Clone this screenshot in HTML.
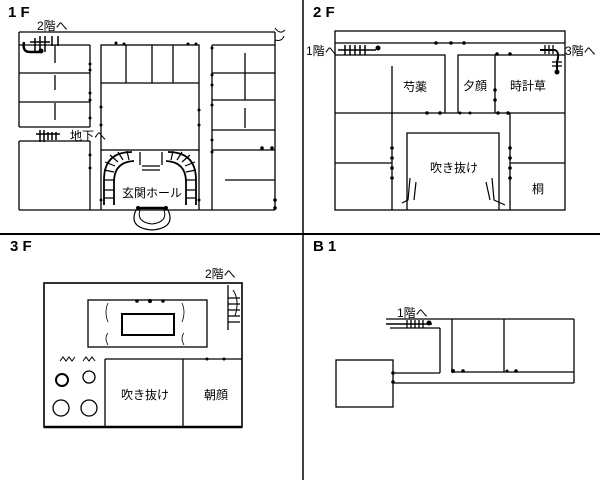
<!DOCTYPE html>
<html><head><meta charset="utf-8"><style>
html,body{margin:0;padding:0;background:#fff}
svg{display:block}
text{font-family:"Liberation Sans","Noto Sans CJK JP",sans-serif;fill:#000}
.t{font-size:12px}
.h{font-size:15px;font-weight:bold}
</style></head><body>
<svg width="600" height="480" viewBox="0 0 600 480" xmlns="http://www.w3.org/2000/svg">
<g stroke="#000" fill="none" stroke-width="1.3">
<line x1="0" y1="234" x2="600" y2="234" stroke-width="2"/>
<line x1="303" y1="0" x2="303" y2="480" stroke-width="1.5"/>

<!-- 1F -->
<line x1="19" y1="32" x2="275" y2="32"/>
<line x1="275" y1="32" x2="275" y2="210"/>
<line x1="19" y1="210" x2="275" y2="210"/>
<line x1="19" y1="32" x2="19" y2="127"/>
<line x1="19" y1="141" x2="19" y2="210"/>
<line x1="19" y1="45" x2="90" y2="45"/>
<line x1="19" y1="73" x2="90" y2="73"/>
<line x1="19" y1="102" x2="90" y2="102"/>
<line x1="19" y1="127" x2="90" y2="127"/>
<line x1="19" y1="141" x2="90" y2="141"/>
<line x1="90" y1="45" x2="90" y2="127"/>
<line x1="90" y1="141" x2="90" y2="210"/>
<line x1="55" y1="45" x2="55" y2="63"/>
<line x1="55" y1="75" x2="55" y2="90"/>
<line x1="55" y1="103" x2="55" y2="120"/>
<rect x="101" y="45" width="98" height="105"/>
<line x1="101" y1="83" x2="199" y2="83"/>
<line x1="126" y1="45" x2="126" y2="83"/>
<line x1="152" y1="45" x2="152" y2="83"/>
<line x1="173" y1="45" x2="173" y2="83"/>
<line x1="101" y1="150" x2="101" y2="210"/>
<line x1="199" y1="150" x2="199" y2="210"/>
<line x1="212" y1="45" x2="212" y2="210"/>
<line x1="212" y1="45" x2="275" y2="45"/>
<line x1="212" y1="73" x2="275" y2="73"/>
<line x1="212" y1="100" x2="275" y2="100"/>
<line x1="212" y1="130" x2="275" y2="130"/>
<line x1="212" y1="150" x2="275" y2="150"/>
<line x1="245" y1="53" x2="245" y2="100"/>
<line x1="245" y1="108" x2="245" y2="128"/>
<line x1="225" y1="180" x2="275" y2="180"/>
<!-- entrance arches -->
<path d="M104 205 L104 180 Q104 152 132 152" stroke-width="1.8"/>
<path d="M114 205 L114 182 Q114 162 134 161" stroke-width="1.8"/>
<path d="M196 205 L196 180 Q196 152 168 152" stroke-width="1.8"/>
<path d="M186 205 L186 182 Q186 162 166 161" stroke-width="1.8"/>
<path d="M104 170 L114 172 M105 162 L115 166 M110 155 L118 162 M118 152 L123 160 M127 151 L129 160 M104 180 L114 180 M104 190 L114 190 M104 198 L114 198
 M196 170 L186 172 M195 162 L185 166 M190 155 L182 162 M182 152 L177 160 M173 151 L171 160 M196 180 L186 180 M196 190 L186 190 M196 198 L186 198" stroke-width="1.2"/>
<line x1="140" y1="152" x2="140" y2="165"/><line x1="162" y1="152" x2="162" y2="165"/>
<line x1="142" y1="166" x2="160" y2="166"/><line x1="142" y1="170" x2="160" y2="170"/>
<path d="M136 210 Q128 228 152 230 Q176 228 168 210" stroke-width="1.2"/>
<path d="M140 210 Q136 222 152 224 Q168 222 164 210" stroke-width="1"/>
<line x1="138" y1="208" x2="166" y2="208" stroke-width="2.5"/>
<!-- stairs 1F -->
<path d="M24 42 Q22 52 30 52 L40 52" stroke-width="2.5"/>
<path d="M30 42 L50 42 M35 38 V52 M40 36 V52 M45 36 V52 M52 36 V46 M58 36 V46" stroke-width="1.5"/>
<path d="M40 130 L40 142 M44 130 V142 M48 132 V140 M52 132 V140 M56 132 V140 M36 134 L60 134" stroke-width="1.5"/>
<path d="M275 28 Q280 35 285 30 M275 40 Q282 42 284 36" stroke-width="1"/>

<!-- 2F -->
<rect x="335" y="31" width="230" height="179"/>
<line x1="335" y1="43" x2="565" y2="43"/>
<path d="M335 55 L445 55 L445 113 M458 113 L458 55 L495 55 L495 113 M495 55 L565 55"/>
<line x1="335" y1="113" x2="565" y2="113"/>
<line x1="392" y1="66" x2="392" y2="210"/>
<line x1="510" y1="113" x2="510" y2="210"/>
<line x1="335" y1="163" x2="392" y2="163"/>
<line x1="510" y1="163" x2="565" y2="163"/>
<path d="M407 210 L407 133 L499 133 L499 210"/>
<path d="M338 50 L376 50 M345 45 V55 M350 45 V55 M355 45 V55 M360 45 V55 M365 45 V55" stroke-width="1.5"/>
<path d="M540 50 L555 50 Q560 52 557 62 L557 72" stroke-width="2"/>
<path d="M545 45 V54 M549 45 V54 M553 45 V54 M552 62 L562 62 M552 66 L562 66" stroke-width="1.3"/>
<path d="M410 178 L408 200 L402 203 M416 182 L414 200" stroke-width="1.2"/>
<path d="M492 178 L494 200 L505 205 M486 182 L490 200" stroke-width="1.2"/>

<!-- 3F -->
<rect x="44" y="283" width="198" height="144" stroke-width="1.6"/>
<line x1="44" y1="427" x2="242" y2="427" stroke-width="2.5"/>
<rect x="88" y="300" width="119" height="47"/>
<rect x="122" y="314" width="52" height="21" stroke-width="2"/>
<line x1="105" y1="359" x2="242" y2="359"/>
<line x1="105" y1="359" x2="105" y2="427"/>
<line x1="183" y1="359" x2="183" y2="427"/>
<path d="M228 285 L228 330 M228 298 L240 298 M228 304 L240 304 M228 310 L240 310 M228 316 L240 316 M228 322 L240 322"/>
<path d="M233 290 Q240 300 235 316" stroke-width="1"/>
<circle cx="62" cy="380" r="6" stroke-width="2"/>
<circle cx="89" cy="377" r="6"/>
<circle cx="61" cy="408" r="8"/>
<circle cx="89" cy="408" r="8"/>
<path d="M60 361 l3 -4 l3 4 l3 -4 l3 4 l3 -4 M83 361 l3 -4 l3 4 l3 -4 l3 4" stroke-width="1"/>
<path d="M108 303 Q104 312 108 322 M108 333 Q104 338 108 345 M182 303 Q186 312 182 322 M184 333 Q180 338 184 345" stroke-width="0.8"/>

<!-- B1 -->
<line x1="386" y1="319" x2="574" y2="319"/>
<line x1="386" y1="324" x2="432" y2="324" stroke-width="1.6"/>
<line x1="390" y1="328" x2="440" y2="328"/>
<line x1="440" y1="328" x2="440" y2="373"/>
<line x1="452" y1="319" x2="452" y2="372"/>
<line x1="504" y1="319" x2="504" y2="372"/>
<line x1="574" y1="319" x2="574" y2="383"/>
<line x1="452" y1="372" x2="574" y2="372"/>
<line x1="393" y1="373" x2="440" y2="373"/>
<line x1="393" y1="383" x2="574" y2="383"/>
<rect x="336" y="360" width="57" height="47"/>
<path d="M407 320 V328 M411 320 V328 M415 320 V328 M419 320 V328 M423 320 V328"/>
</g>
<g fill="#000">
<circle cx="429" cy="323" r="2.5"/>
<circle cx="41" cy="51" r="2.5"/>
<circle cx="378" cy="48" r="2.5"/>
<circle cx="557" cy="72" r="2.5"/>
<circle cx="453" cy="371" r="2"/><circle cx="463" cy="371" r="1.8"/>
<circle cx="507" cy="371" r="1.5"/><circle cx="516" cy="371" r="1.8"/>
<circle cx="393" cy="373" r="1.8"/><circle cx="393" cy="382" r="1.8"/>
<circle cx="137" cy="301" r="1.8"/><circle cx="150" cy="301" r="2"/><circle cx="163" cy="301" r="1.8"/>
<circle cx="207" cy="359" r="1.5"/><circle cx="224" cy="359" r="1.5"/>
<circle cx="436" cy="43" r="1.8"/><circle cx="451" cy="43" r="1.8"/><circle cx="464" cy="43" r="1.8"/>
<circle cx="392" cy="148" r="1.8"/><circle cx="392" cy="158" r="1.8"/><circle cx="392" cy="168" r="1.8"/><circle cx="392" cy="178" r="1.8"/>
<circle cx="510" cy="148" r="1.8"/><circle cx="510" cy="158" r="1.8"/><circle cx="510" cy="168" r="1.8"/><circle cx="510" cy="178" r="1.8"/>
<circle cx="497" cy="54" r="1.8"/><circle cx="510" cy="54" r="1.8"/><circle cx="495" cy="90" r="1.8"/><circle cx="495" cy="100" r="1.8"/><circle cx="498" cy="113" r="1.8"/><circle cx="508" cy="113" r="1.8"/>
<circle cx="427" cy="113" r="1.8"/><circle cx="440" cy="113" r="1.8"/><circle cx="460" cy="113" r="1.5"/><circle cx="470" cy="113" r="1.5"/>
<circle cx="90" cy="64" r="1.5"/><circle cx="90" cy="70" r="1.5"/><circle cx="90" cy="93" r="1.5"/><circle cx="90" cy="100" r="1.5"/><circle cx="90" cy="118" r="1.5"/><circle cx="90" cy="155" r="1.5"/><circle cx="90" cy="168" r="1.5"/>
<circle cx="101" cy="107" r="1.5"/><circle cx="101" cy="125" r="1.5"/><circle cx="199" cy="110" r="1.5"/><circle cx="199" cy="125" r="1.5"/>
<circle cx="116" cy="43" r="1.5"/><circle cx="124" cy="44" r="1.5"/><circle cx="188" cy="44" r="1.5"/><circle cx="196" cy="44" r="1.5"/>
<circle cx="212" cy="48" r="1.5"/><circle cx="212" cy="75" r="1.5"/><circle cx="212" cy="85" r="1.5"/><circle cx="212" cy="105" r="1.5"/><circle cx="212" cy="140" r="1.5"/><circle cx="212" cy="152" r="1.5"/>
<circle cx="262" cy="148" r="1.8"/><circle cx="272" cy="148" r="1.8"/><circle cx="275" cy="200" r="1.8"/><circle cx="275" cy="208" r="1.8"/>
<circle cx="101" cy="200" r="1.5"/><circle cx="199" cy="200" r="1.5"/>
<circle cx="138" cy="208" r="2"/><circle cx="166" cy="208" r="2"/>
</g>
<text class="h" x="8" y="17">1 F</text>
<text class="h" x="313" y="17">2 F</text>
<text class="h" x="10" y="251">3 F</text>
<text class="h" x="313" y="251">B 1</text>
<text class="t" x="37" y="30">2階へ</text>
<text class="t" x="70" y="140">地下へ</text>
<text class="t" x="122" y="197">玄関ホール</text>
<text class="t" x="306" y="55">1階へ</text>
<text class="t" x="565" y="55">3階へ</text>
<text class="t" x="403" y="91">芍薬</text>
<text class="t" x="463" y="90">夕顔</text>
<text class="t" x="510" y="90">時計草</text>
<text class="t" x="430" y="172">吹き抜け</text>
<text class="t" x="532" y="193">桐</text>
<text class="t" x="205" y="278">2階へ</text>
<text class="t" x="121" y="399">吹き抜け</text>
<text class="t" x="204" y="399">朝顔</text>
<text class="t" x="397" y="317">1階へ</text>
</svg>
</body></html>
